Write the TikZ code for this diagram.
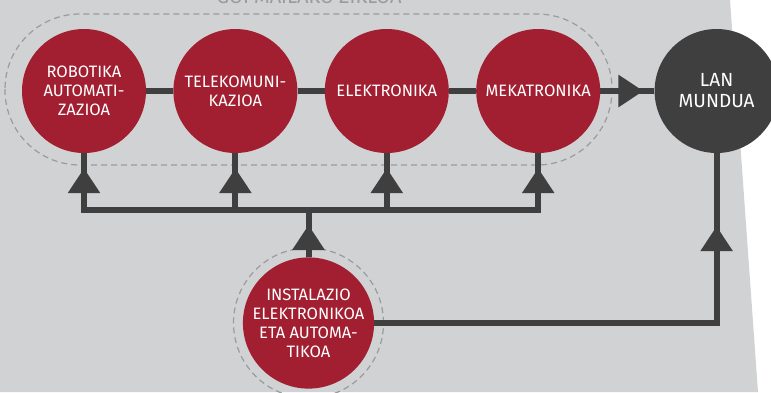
\documentclass[tikz,border=0pt]{standalone}
\usepackage{fontspec}
\setmainfont{Fira Sans}
\usetikzlibrary{arrows.meta,decorations.markings,positioning}
\definecolor{bordo}{HTML}{A11F31}
\definecolor{ilun}{HTML}{3F3F3F}
\definecolor{hondo}{HTML}{D1D2D4}
\definecolor{marra}{HTML}{9A9B9D}
\tikzset{
	ziklo/.style={circle,fill=bordo,text=white,minimum size=124pt,inner sep=0pt,align=center,font=\fontsize{16.5}{19}\selectfont},
	mundu/.style={ziklo,fill=ilun,font=\fontsize{19}{21}\selectfont},
	lotura/.style={draw=ilun,line width=6pt},
	gezi/.style={lotura,postaction={decorate},decoration={markings,mark=at position #1 with {\arrow{Triangle[length=25pt,width=31pt]}}}},
	eten/.style={draw=marra,line width=1.2pt,dash pattern=on 6pt off 4pt},
}

\begin{document}
\begin{tikzpicture}[x=1pt,y=-1pt]
		\useasboundingbox (0,0) rectangle (771,392);
		\fill[hondo] (0,0) -- (730,0) -- (758,392) -- (0,392) -- cycle;
		\node[text=marra,font=\fontsize{20}{22}\selectfont,anchor=base] (izenburu) at (309,3) {GOI MAILAKO ZIKLOA};
		\draw[eten,rounded corners=75pt] (5,14) rectangle (612,165);
		
		\node[ziklo] (robotika) at (84,91) {ROBOTIKA\\AUTOMATI-\\ZAZIOA};
		\node[ziklo,right=27pt of robotika] (teleko) {TELEKOMUNI-\\KAZIOA};
		\node[ziklo,right=27pt of teleko] (elektro) {ELEKTRONIKA};
		\node[ziklo,right=27pt of elektro] (meka) {MEKATRONIKA};
		\node[mundu,right=54pt of meka] (lan) {LAN\\MUNDUA};
		\node[ziklo] (inst) at (308.5,323) {INSTALAZIO\\ELEKTRONIKOA\\ETA AUTOMA-\\TIKOA};
		\draw[eten] (inst) circle[radius=75pt];
		\coordinate (bus) at (0,210);
		
		\draw[lotura] (robotika) -- (teleko) (teleko) -- (elektro) (elektro) -- (meka);
		\draw[gezi=-11pt] (meka) -- (lan);
		\draw[lotura,line cap=rect] (robotika |- bus) -- (meka |- bus);
		\foreach \n in {robotika,teleko,elektro,meka}
			\draw[gezi=-15pt] (\n |- bus) -- (\n);
		\draw[gezi=-15pt] (inst) -- (inst |- bus);
		\draw[gezi=-73pt] (inst) -- (inst -| lan) -- (lan);
\end{tikzpicture}
\end{document}
